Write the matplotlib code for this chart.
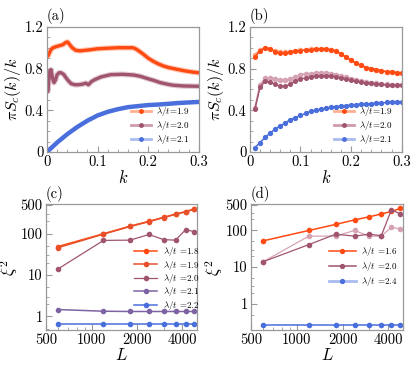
import numpy as np
import matplotlib
matplotlib.use("Agg")
import matplotlib.pyplot as plt
from matplotlib.lines import Line2D

plt.rcParams["font.family"] = ["cmr10", "DejaVu Serif"]
plt.rcParams["mathtext.fontset"] = "cm"
plt.rcParams["axes.formatter.use_mathtext"] = True

# Colours
ORANGE = "#ff4a12"
RED = "#e8502a"
MAUVE = "#a0546e"
MAUVE_L = "#d6a3b3"
PURPLE = "#7d63a3"
BLUE = "#4a6fdc"
FRAME = "#999999"

# Panel (a): dense k scan
ka_19 = [0.002, 0.005, 0.008, 0.012, 0.018, 0.025, 0.032, 0.037, 0.041, 0.045,
         0.050, 0.057, 0.065, 0.075, 0.085, 0.10, 0.12, 0.14, 0.16, 0.17,
         0.175, 0.18, 0.19, 0.20, 0.21, 0.22, 0.23, 0.24, 0.25, 0.26,
         0.27, 0.28, 0.29, 0.30]
sa_19 = [0.92, 0.95, 0.98, 1.00, 1.01, 1.02, 1.03, 1.05, 1.055, 1.03,
         1.00, 0.975, 0.97, 0.975, 0.98, 0.99, 0.995, 1.00, 1.00, 1.00,
         0.99, 0.975, 0.94, 0.90, 0.87, 0.845, 0.825, 0.81, 0.80, 0.79,
         0.78, 0.772, 0.765, 0.76]
ka_20 = [0.002, 0.004, 0.006, 0.008, 0.010, 0.012, 0.014, 0.017, 0.020, 0.024,
         0.028, 0.033, 0.038, 0.043, 0.048, 0.055, 0.062, 0.070, 0.077, 0.082,
         0.088, 0.095, 0.107, 0.126, 0.15, 0.172, 0.185, 0.198, 0.212, 0.224,
         0.24, 0.25, 0.27, 0.30]
sa_20 = [0.58, 0.70, 0.78, 0.79, 0.74, 0.69, 0.665, 0.69, 0.74, 0.76,
         0.76, 0.745, 0.71, 0.68, 0.655, 0.645, 0.645, 0.65, 0.66, 0.645,
         0.675, 0.695, 0.72, 0.742, 0.745, 0.738, 0.725, 0.705, 0.685, 0.665,
         0.648, 0.64, 0.633, 0.63]
ka_21 = [0.0, 0.01, 0.02, 0.03, 0.04, 0.05, 0.06, 0.07, 0.08, 0.09,
         0.10, 0.12, 0.14, 0.16, 0.18, 0.20, 0.22, 0.24, 0.26, 0.28, 0.30]
sa_21 = [0.0, 0.045, 0.09, 0.13, 0.17, 0.205, 0.24, 0.27, 0.30, 0.325,
         0.35, 0.385, 0.41, 0.43, 0.44, 0.45, 0.455, 0.462, 0.47, 0.475, 0.48]

# Panel (b): k = 0.01 ... 0.30
kb = [0.01, 0.02, 0.03, 0.04, 0.05, 0.06, 0.07, 0.08, 0.09, 0.10,
      0.11, 0.12, 0.13, 0.14, 0.15, 0.16, 0.17, 0.18, 0.19, 0.20,
      0.21, 0.22, 0.23, 0.24, 0.25, 0.26, 0.27, 0.28, 0.29, 0.30]
sb_19 = [0.91, 0.97, 1.00, 0.99, 0.96, 0.95, 0.95, 0.96, 0.97, 0.97,
         0.98, 0.98, 0.99, 0.99, 0.99, 0.98, 0.97, 0.94, 0.91, 0.88,
         0.85, 0.83, 0.81, 0.80, 0.79, 0.78, 0.77, 0.77, 0.76, 0.76]
sb_19l = [0.93, 0.98, 1.00, 0.99, 0.97, 0.96, 0.96, 0.96, 0.97, 0.98,
          0.98, 0.99, 0.99, 0.99, 0.99, 0.98, 0.97, 0.94, 0.91, 0.88,
          0.85, 0.83, 0.81, 0.80, 0.79, 0.78, 0.77, 0.77, 0.76, 0.76]
sb_20 = [0.41, 0.62, 0.68, 0.67, 0.65, 0.63, 0.63, 0.65, 0.68, 0.70,
         0.71, 0.72, 0.73, 0.73, 0.73, 0.73, 0.72, 0.71, 0.70, 0.69,
         0.68, 0.67, 0.66, 0.66, 0.65, 0.65, 0.64, 0.64, 0.64, 0.64]
sb_20l = [0.42, 0.64, 0.71, 0.71, 0.70, 0.69, 0.69, 0.70, 0.72, 0.74,
          0.75, 0.75, 0.76, 0.76, 0.76, 0.75, 0.74, 0.73, 0.72, 0.70,
          0.69, 0.68, 0.67, 0.66, 0.66, 0.65, 0.65, 0.64, 0.64, 0.64]
sb_21 = [0.04, 0.09, 0.14, 0.18, 0.22, 0.25, 0.28, 0.31, 0.33, 0.35,
         0.37, 0.39, 0.40, 0.41, 0.42, 0.43, 0.435, 0.44, 0.445, 0.45,
         0.455, 0.46, 0.46, 0.465, 0.47, 0.47, 0.475, 0.475, 0.48, 0.48]

# Panels (c), (d): system sizes
L = [600, 1200, 1800, 2400, 3000, 3600, 4200, 4800]
xi_c18 = [49, 100, 153, 200, 250, 300, 345, 400]
xi_c19 = [46, 98, 150, 197, 247, 297, 340, 395]
xi_c20 = [14, 69, 70, 96, 72, 70, 126, 112]
xi_c21 = [1.45, 1.32, 1.30, 1.30, 1.30, 1.30, 1.30, 1.30]
xi_c22 = [0.65, 0.65, 0.65, 0.65, 0.65, 0.65, 0.65, 0.65]
xi_d16 = [52, 100, 146, 194, 236, 283, 330, 400]
xi_d20 = [14, 41, 79, 70, 79, 72, 370, 283]
xi_d20l = [14, 70, 70, 100, 70, 70, 122, 110]
xi_d24 = [0.27, 0.27, 0.27, 0.27, 0.27, 0.27, 0.27, 0.27]

fig = plt.figure(figsize=(4.15, 3.68), dpi=100)
ax_a = fig.add_axes([0.113, 0.587, 0.366, 0.340])
ax_b = fig.add_axes([0.602, 0.587, 0.366, 0.340])
ax_c = fig.add_axes([0.111, 0.103, 0.364, 0.342])
ax_d = fig.add_axes([0.605, 0.103, 0.366, 0.342])


def style(ax, tag):
    for sp in ax.spines.values():
        sp.set_color(FRAME)
        sp.set_linewidth(0.9)
    ax.tick_params(which="both", direction="in", color=FRAME, labelsize=10.5,
                   pad=2.5)
    ax.tick_params(which="major", length=4)
    ax.tick_params(which="minor", length=2)
    ax.text(0.0, 1.02, tag, transform=ax.transAxes, fontsize=10.5,
            ha="left", va="bottom")


def top_panel(ax):
    ax.set_xlim(0, 0.3)
    ax.set_ylim(0, 1.2)
    ax.set_xticks([0, 0.1, 0.2, 0.3], ["0", "0.1", "0.2", "0.3"])
    ax.set_yticks([0, 0.4, 0.8, 1.2], ["0", "0.4", "0.8", "1.2"])
    ax.set_xticks(np.arange(0, 0.301, 0.02), minor=True)
    ax.set_yticks(np.arange(0, 1.21, 0.1), minor=True)
    ax.set_xlabel(r"$k$", fontsize=12, labelpad=0)
    ax.set_ylabel(r"$\pi S_c(k)/k$", fontsize=11.5, labelpad=1)


def bottom_panel(ax, ylo):
    ax.set_xscale("log")
    ax.set_yscale("log")
    ax.set_xlim(510, 5000)
    ax.set_ylim(ylo, 520)
    ax.set_xticks([500, 1000, 2000, 4000], ["500", "1000", "2000", "4000"])
    ax.set_xticks([600, 700, 800, 900, 3000, 5000], minor=True)
    ax.set_xticklabels([], minor=True)
    ax.set_yticks([1, 10, 100, 500], ["1", "10", "100", "500"])
    ax.set_yticks([0.5, 2, 3, 5, 20, 30, 50, 200, 300], minor=True)
    ax.set_yticklabels([], minor=True)
    ax.set_xlabel(r"$L$", fontsize=12, labelpad=0)
    ax.set_ylabel(r"$\xi^2$", fontsize=12, labelpad=0)


def handle(col, light, ms):
    return Line2D([], [], color=light, lw=2.0, marker="o", ms=ms,
                  mfc=col, mec=col)


# (a)
ax_a.plot(ka_19, sa_19, color=ORANGE, lw=4, alpha=0.3, solid_capstyle="round")
ax_a.plot(ka_19, sa_19, color=ORANGE, lw=2.4, solid_capstyle="round")
ax_a.plot(ka_20, sa_20, color=MAUVE, lw=4, alpha=0.3, solid_capstyle="round")
ax_a.plot(ka_20, sa_20, color=MAUVE, lw=2.4, solid_capstyle="round")
ax_a.plot(ka_21, sa_21, color=BLUE, lw=3.2, solid_capstyle="round")
top_panel(ax_a)
style(ax_a, "(a)")
hs = [handle(ORANGE, "#ffb08f", 2.5), handle(MAUVE, "#cf9aab", 2.5),
      handle(BLUE, "#a9bcf0", 2.5)]
labs_ab = [r"$\lambda/t$=1.9", r"$\lambda/t$=2.0", r"$\lambda/t$=2.1"]
ax_a.legend(hs, labs_ab, loc="upper left", bbox_to_anchor=(0.54, 0.39),
            frameon=False, fontsize=6.5, handlelength=2.3, handletextpad=0.5,
            labelspacing=0.12, borderaxespad=0, borderpad=0.2)

# (b)
ax_b.plot(kb, sb_19l, color="#ffa27c", lw=1.3, marker="o", ms=3.0)
ax_b.plot(kb, sb_19, color=ORANGE, lw=1.1, marker="o", ms=2.6)
ax_b.plot(kb, sb_20l, color=MAUVE_L, lw=1.3, marker="o", ms=3.0)
ax_b.plot(kb, sb_20, color=MAUVE, lw=1.1, marker="o", ms=2.6)
ax_b.plot(kb, sb_21, color=BLUE, lw=1.1, marker="o", ms=2.8)
top_panel(ax_b)
style(ax_b, "(b)")
ax_b.legend(hs, labs_ab, loc="upper left", bbox_to_anchor=(0.54, 0.39),
            frameon=False, fontsize=6.5, handlelength=2.3, handletextpad=0.5,
            labelspacing=0.12, borderaxespad=0, borderpad=0.2)

# (c)
ax_c.plot(L, xi_c18, color=ORANGE, lw=1.1, marker="o", ms=3.0,
          label=r"$\lambda/t$ =1.8")
ax_c.plot(L, xi_c19, color=RED, lw=1.1, marker="o", ms=3.0,
          label=r"$\lambda/t$ =1.9")
ax_c.plot(L, xi_c20, color=MAUVE, lw=0.9, marker="o", ms=3.0,
          label=r"$\lambda/t$ =2.0")
ax_c.plot(L, xi_c21, color=PURPLE, lw=1.1, marker="o", ms=3.0,
          label=r"$\lambda/t$ =2.1")
ax_c.plot(L, xi_c22, color=BLUE, lw=1.1, marker="o", ms=3.0,
          label=r"$\lambda/t$ =2.2")
bottom_panel(ax_c, 0.46)
style(ax_c, "(c)")
ax_c.legend(loc="upper left", bbox_to_anchor=(0.57, 0.69), frameon=False,
            fontsize=6.5, handlelength=2.6, handletextpad=0.6,
            labelspacing=0.05, borderaxespad=0, borderpad=0.2)

# (d)
ax_d.plot(L, xi_d20l, color=MAUVE_L, lw=0.9, marker="o", ms=3.0)
ax_d.plot(L, xi_d16, color=ORANGE, lw=1.1, marker="o", ms=3.0)
ax_d.plot(L, xi_d20, color=MAUVE, lw=0.9, marker="o", ms=3.0)
ax_d.plot(L, xi_d24, color=BLUE, lw=1.1, marker="o", ms=3.0)
bottom_panel(ax_d, 0.19)
style(ax_d, "(d)")
hd = [handle(ORANGE, ORANGE, 2.8), handle(MAUVE, MAUVE, 2.8),
      handle(BLUE, "#a9bcf0", 2.8)]
hd[0].set_lw(1.1)
hd[1].set_lw(1.1)
ax_d.legend(hd, [r"$\lambda/t$ =1.6", r"$\lambda/t$ =2.0", r"$\lambda/t$ =2.4"],
            loc="upper left", bbox_to_anchor=(0.5, 0.69), frameon=False,
            fontsize=6.5, handlelength=3.0, handletextpad=0.6,
            labelspacing=0.2, borderaxespad=0, borderpad=0.2)

fig.savefig("out.png", dpi=100)
